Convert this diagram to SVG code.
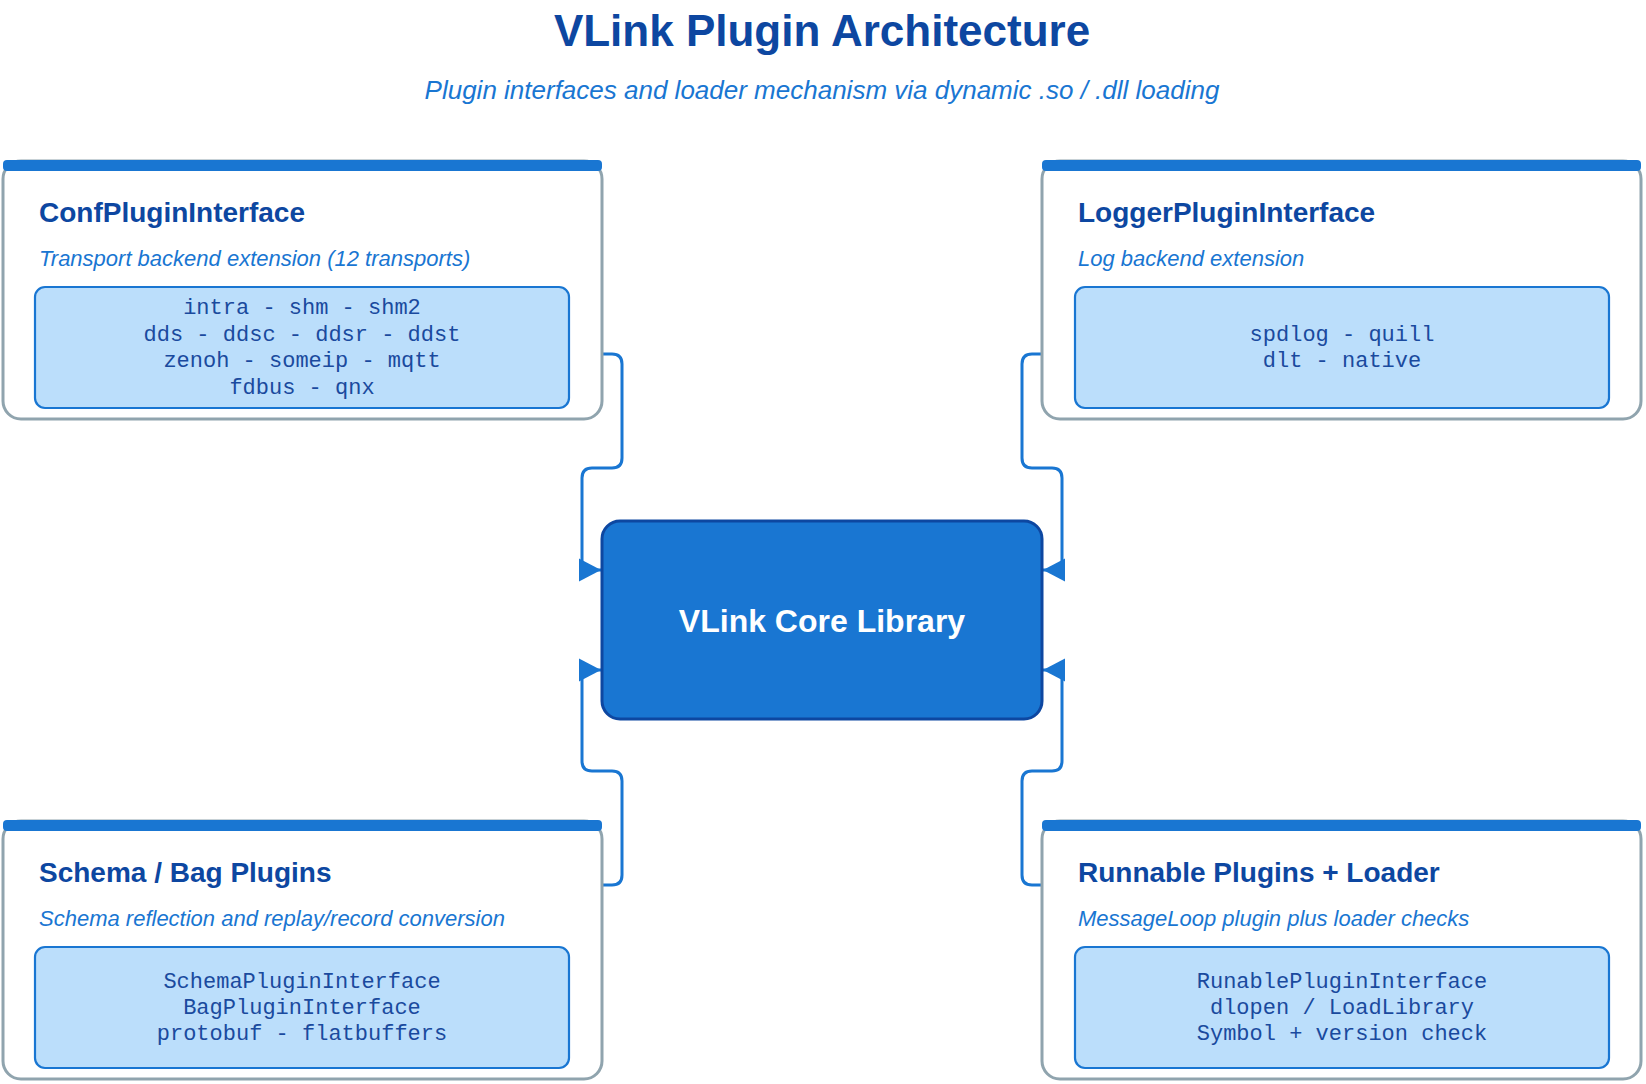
<svg xmlns="http://www.w3.org/2000/svg" width="1646" height="1084" viewBox="0 0 1646 1084">
<style>
.bg{fill:#ffffff}
.h1{font-family:"Liberation Sans",Arial,sans-serif;font-weight:bold;font-size:44px;fill:#0D47A1;text-anchor:middle}
.h2{font-family:"Liberation Sans",Arial,sans-serif;font-style:italic;font-size:26px;fill:#1976D2;text-anchor:middle}
.card{fill:#ffffff;stroke:#90A4AE;stroke-width:3}
.bar{fill:#1976D2}
.ct{font-family:"Liberation Sans",Arial,sans-serif;font-weight:bold;font-size:28px;fill:#0D47A1}
.cs{font-family:"Liberation Sans",Arial,sans-serif;font-style:italic;font-size:22px;fill:#1976D2}
.inner{fill:#BBDEFB;stroke:#1976D2;stroke-width:2.2}
.mono{font-family:"Liberation Mono","Courier New",monospace;font-size:22px;fill:#1A4A9E;text-anchor:middle}
.core{fill:#1976D2;stroke:#0D47A1;stroke-width:3}
.coret{font-family:"Liberation Sans",Arial,sans-serif;font-weight:bold;font-size:32px;fill:#ffffff;text-anchor:middle}
.edge{fill:none;stroke:#1976D2;stroke-width:3}
</style>
<defs>
<marker id="arr" markerUnits="userSpaceOnUse" markerWidth="22" markerHeight="24" refX="22" refY="11.5" orient="auto" viewBox="0 0 22 23">
<path d="M0,0 L22,11.5 L0,23 z" fill="#1976D2"/>
</marker>
</defs>
<rect class="bg" x="0" y="0" width="1646" height="1084"/>
<g id="title">
<text class="h1" x="822" y="46">VLink Plugin Architecture</text>
<text class="h2" x="822" y="99">Plugin interfaces and loader mechanism via dynamic .so / .dll loading</text>
</g>
<g id="connectors">
<path class="edge" marker-end="url(#arr)" d="M602,354 H612 Q622,354 622,364 V458 Q622,468 612,468 H592 Q582,468 582,478 V570 H601"/>
<path class="edge" marker-end="url(#arr)" d="M602,885 H612 Q622,885 622,875 V781 Q622,771 612,771 H592 Q582,771 582,761 V670 H601"/>
<path class="edge" marker-end="url(#arr)" d="M1042,354 H1032 Q1022,354 1022,364 V458 Q1022,468 1032,468 H1052 Q1062,468 1062,478 V570 H1043"/>
<path class="edge" marker-end="url(#arr)" d="M1042,885 H1032 Q1022,885 1022,875 V781 Q1022,771 1032,771 H1052 Q1062,771 1062,761 V670 H1043"/>
</g>
<g id="conf">
<rect class="card" x="3" y="161" width="599" height="258" rx="18"/>
<rect class="bar" x="3" y="160" width="599" height="11" rx="4"/>
<text class="ct" x="39" y="222">ConfPluginInterface</text>
<text class="cs" x="39" y="266">Transport backend extension (12 transports)</text>
<rect class="inner" x="35" y="287" width="534" height="121" rx="10"/>
<text class="mono" x="302" y="314">intra - shm - shm2</text>
<text class="mono" x="302" y="340.5">dds - ddsc - ddsr - ddst</text>
<text class="mono" x="302" y="367">zenoh - someip - mqtt</text>
<text class="mono" x="302" y="393.5">fdbus - qnx</text>
</g>
<g id="logger">
<rect class="card" x="1042" y="161" width="599" height="258" rx="18"/>
<rect class="bar" x="1042" y="160" width="599" height="11" rx="4"/>
<text class="ct" x="1078" y="222">LoggerPluginInterface</text>
<text class="cs" x="1078" y="266">Log backend extension</text>
<rect class="inner" x="1075" y="287" width="534" height="121" rx="10"/>
<text class="mono" x="1342" y="340.5">spdlog - quill</text>
<text class="mono" x="1342" y="367">dlt - native</text>
</g>
<g id="core">
<rect class="core" x="602" y="521" width="440" height="198" rx="18"/>
<text class="coret" x="822" y="632">VLink Core Library</text>
</g>
<g id="schema">
<rect class="card" x="3" y="821" width="599" height="258" rx="18"/>
<rect class="bar" x="3" y="820" width="599" height="11" rx="4"/>
<text class="ct" x="39" y="882">Schema / Bag Plugins</text>
<text class="cs" x="39" y="926">Schema reflection and replay/record conversion</text>
<rect class="inner" x="35" y="947" width="534" height="121" rx="10"/>
<text class="mono" x="302" y="988">SchemaPluginInterface</text>
<text class="mono" x="302" y="1014">BagPluginInterface</text>
<text class="mono" x="302" y="1040">protobuf - flatbuffers</text>
</g>
<g id="runnable">
<rect class="card" x="1042" y="821" width="599" height="258" rx="18"/>
<rect class="bar" x="1042" y="820" width="599" height="11" rx="4"/>
<text class="ct" x="1078" y="882">Runnable Plugins + Loader</text>
<text class="cs" x="1078" y="926">MessageLoop plugin plus loader checks</text>
<rect class="inner" x="1075" y="947" width="534" height="121" rx="10"/>
<text class="mono" x="1342" y="988">RunablePluginInterface</text>
<text class="mono" x="1342" y="1014">dlopen / LoadLibrary</text>
<text class="mono" x="1342" y="1040">Symbol + version check</text>
</g>
</svg>
